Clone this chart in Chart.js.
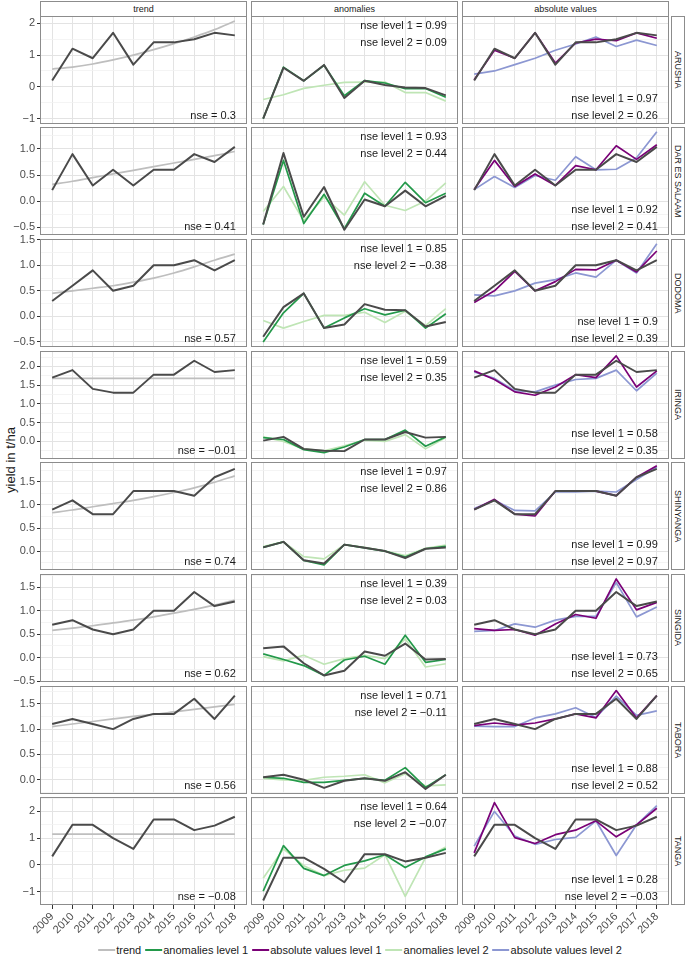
<!DOCTYPE html>
<html>
<head>
<meta charset="utf-8">
<script src="https://cdn.jsdelivr.net/npm/chart.js@4.4.1/dist/chart.umd.min.js"></script>
<style>
  html, body { margin: 0; padding: 0; background: #fff; }
  body { width: 685px; height: 960px; position: relative; overflow: hidden;
         font-family: "Liberation Sans", Arial, Helvetica, sans-serif; }
  .panel { position: absolute; }
  .panel canvas { display: block; }
  .strip { position: absolute; box-sizing: border-box; border: 1px solid #8c8c8c; background: #fff;
           color: #1a1a1a; font-size: 9px; display: flex; align-items: center; justify-content: center; }
  .strip.side span { writing-mode: vertical-rl; white-space: nowrap; }
  #ytitle { position: absolute; left: 10px; top: 460px; transform: translate(-50%, -50%) rotate(-90deg);
            font-size: 13px; color: #1a1a1a; white-space: nowrap; }
  #legend { position: absolute; top: 944px; left: 362px; transform: translateX(-50%); display: flex;
            align-items: center; font-size: 11px; color: #1a1a1a; white-space: nowrap; }
  #legend .item { display: flex; align-items: center; margin-right: 4px; }
  #legend .key { display: inline-block; width: 17px; height: 2px; margin-right: 1px; }
</style>
</head>
<body>
<div id="ytitle">yield in t/ha</div>
<div id="legend"></div>
<script>
// ---------- data ----------
const years = [2009, 2010, 2011, 2012, 2013, 2014, 2015, 2016, 2017, 2018];
const regions = ['ARUSHA', 'DAR ES SALAAM', 'DODOMA', 'IRINGA', 'SHINYANGA', 'SINGIDA', 'TABORA', 'TANGA'];
const facetTitles = ['trend', 'anomalies', 'absolute values'];

// observed yield (t/ha), one row per region
const observedYield = [
  [0.2, 1.2, 0.9, 1.7, 0.7, 1.4, 1.4, 1.5, 1.7, 1.62],
  [0.21, 0.9, 0.3, 0.6, 0.3, 0.6, 0.6, 0.9, 0.75, 1.04],
  [0.3, 0.6, 0.9, 0.5, 0.6, 1.0, 1.0, 1.1, 0.9, 1.1],
  [1.7, 1.9, 1.4, 1.3, 1.3, 1.78, 1.78, 2.15, 1.85, 1.9],
  [0.9, 1.1, 0.8, 0.8, 1.3, 1.3, 1.3, 1.2, 1.6, 1.78],
  [0.7, 0.8, 0.6, 0.5, 0.6, 1.0, 1.0, 1.4, 1.1, 1.2],
  [1.1, 1.2, 1.1, 1.0, 1.2, 1.3, 1.3, 1.6, 1.2, 1.66],
  [0.32, 1.5, 1.5, 1.0, 0.6, 1.7, 1.7, 1.3, 1.47, 1.8]
];
const trendYield = [
  [0.56, 0.62, 0.72, 0.85, 1.0, 1.17, 1.36, 1.57, 1.8, 2.07],
  [0.32, 0.38, 0.45, 0.52, 0.59, 0.66, 0.73, 0.8, 0.87, 0.95],
  [0.45, 0.5, 0.55, 0.6, 0.67, 0.75, 0.85, 0.97, 1.1, 1.22],
  [1.68, 1.68, 1.68, 1.68, 1.68, 1.68, 1.68, 1.68, 1.68, 1.68],
  [0.83, 0.89, 0.96, 1.03, 1.1, 1.18, 1.27, 1.37, 1.49, 1.63],
  [0.58, 0.63, 0.68, 0.74, 0.8, 0.87, 0.95, 1.03, 1.12, 1.23],
  [1.05, 1.1, 1.15, 1.2, 1.25, 1.29, 1.34, 1.39, 1.44, 1.49],
  [1.15, 1.15, 1.15, 1.15, 1.15, 1.15, 1.15, 1.15, 1.15, 1.15]
];
const observedAnomaly = [
  [-1.0, 0.6, 0.19, 0.69, -0.35, 0.19, 0.06, -0.02, -0.04, -0.27],
  [-0.45, 0.92, -0.3, 0.27, -0.55, 0.03, -0.1, 0.2, -0.1, 0.1],
  [-0.4, 0.18, 0.45, -0.23, -0.16, 0.24, 0.13, 0.12, -0.2, -0.11],
  [0.02, 0.12, -0.2, -0.25, -0.26, 0.05, 0.05, 0.25, 0.1, 0.12],
  [0.08, 0.2, -0.2, -0.27, 0.14, 0.07, 0.0, -0.15, 0.05, 0.08],
  [0.2, 0.24, -0.12, -0.38, -0.28, 0.13, 0.04, 0.3, -0.04, -0.03],
  [0.05, 0.1, 0.0, -0.16, -0.02, 0.03, -0.02, 0.15, -0.18, 0.1],
  [-1.33, 0.27, 0.27, -0.15, -0.65, 0.4, 0.4, 0.13, 0.27, 0.45]
];
const anomaliesLevel1 = [
  [-1.0, 0.62, 0.19, 0.68, -0.28, 0.2, 0.12, -0.06, -0.05, -0.33],
  [-0.45, 0.78, -0.43, 0.13, -0.53, 0.15, -0.1, 0.36, -0.03, 0.15],
  [-0.5, 0.07, 0.45, -0.23, -0.03, 0.15, 0.03, 0.12, -0.23, 0.05],
  [0.1, 0.05, -0.22, -0.3, -0.15, 0.05, 0.05, 0.3, -0.13, 0.12],
  [0.08, 0.2, -0.2, -0.3, 0.14, 0.07, 0.0, -0.13, 0.05, 0.1],
  [0.08, -0.04, -0.17, -0.38, -0.05, 0.03, -0.14, 0.48, -0.1, -0.04],
  [0.05, 0.03, -0.05, -0.05, -0.01, 0.03, -0.01, 0.24, -0.15, 0.1],
  [-0.98, 0.72, -0.13, -0.4, -0.02, 0.15, 0.38, -0.1, 0.3, 0.6]
];
const anomaliesLevel2 = [
  [-0.4, -0.25, -0.05, 0.05, 0.14, 0.15, 0.15, -0.18, -0.18, -0.45],
  [-0.2, 0.28, -0.38, 0.08, -0.27, 0.37, -0.08, -0.18, 0.0, 0.35],
  [-0.08, -0.23, -0.1, 0.02, 0.02, 0.08, -0.12, 0.1, -0.18, 0.15],
  [0.12, 0.0, -0.2, -0.25, -0.12, 0.03, 0.0, 0.18, -0.2, 0.1],
  [0.1, 0.2, -0.12, -0.17, 0.14, 0.08, 0.0, -0.1, 0.06, 0.13],
  [0.02, -0.07, 0.05, -0.14, -0.02, 0.05, -0.02, 0.4, -0.2, -0.13],
  [0.03, 0.0, -0.01, 0.05, 0.07, 0.1, -0.06, 0.12, -0.12, -0.1],
  [-0.5, 0.6, -0.03, -0.4, -0.2, -0.12, 0.38, -1.18, 0.27, 0.67]
];
const absoluteLevel1 = [
  [0.22, 1.15, 0.9, 1.7, 0.75, 1.38, 1.5, 1.45, 1.7, 1.53],
  [0.22, 0.78, 0.28, 0.52, 0.3, 0.68, 0.6, 1.06, 0.8, 1.08],
  [0.27, 0.5, 0.88, 0.5, 0.68, 0.92, 0.91, 1.1, 0.87, 1.28],
  [1.88, 1.65, 1.32, 1.23, 1.45, 1.78, 1.7, 2.28, 1.45, 1.88],
  [0.9, 1.12, 0.8, 0.76, 1.3, 1.3, 1.3, 1.2, 1.6, 1.85],
  [0.62, 0.58, 0.6, 0.48, 0.72, 0.92, 0.84, 1.68, 1.02, 1.18],
  [1.07, 1.12, 1.08, 1.12, 1.2, 1.3, 1.22, 1.76, 1.22, 1.66],
  [0.45, 2.33, 1.02, 0.8, 1.13, 1.3, 1.65, 1.05, 1.5, 2.12]
];
const absoluteLevel2 = [
  [0.4, 0.5, 0.7, 0.9, 1.15, 1.35, 1.57, 1.27, 1.47, 1.3],
  [0.22, 0.47, 0.26, 0.49, 0.4, 0.85, 0.6, 0.61, 0.83, 1.33],
  [0.42, 0.4, 0.5, 0.65, 0.72, 0.85, 0.77, 1.1, 0.85, 1.42],
  [1.85, 1.68, 1.35, 1.32, 1.5, 1.65, 1.68, 1.9, 1.35, 1.82],
  [0.92, 1.1, 0.88, 0.87, 1.28, 1.28, 1.3, 1.28, 1.55, 1.82],
  [0.56, 0.58, 0.72, 0.65, 0.8, 0.88, 0.88, 1.6, 0.87, 1.08],
  [1.06, 1.05, 1.05, 1.22, 1.3, 1.42, 1.23, 1.65, 1.27, 1.36],
  [0.7, 2.0, 1.08, 0.77, 0.95, 1.03, 1.65, 0.35, 1.5, 2.22]
];

// NSE annotations
const nseTrend     = ['0.3', '0.41', '0.57', '\u22120.01', '0.74', '0.62', '0.56', '\u22120.08'];
const nseAnomaly1  = ['0.99', '0.93', '0.85', '0.59', '0.97', '0.39', '0.71', '0.64'];
const nseAnomaly2  = ['0.09', '0.44', '\u22120.38', '0.35', '0.86', '0.03', '\u22120.11', '\u22120.07'];
const nseAbsolute1 = ['0.97', '0.92', '0.9', '0.58', '0.99', '0.73', '0.88', '0.28'];
const nseAbsolute2 = ['0.26', '0.41', '0.39', '0.35', '0.97', '0.65', '0.52', '\u22120.03'];

// y axis per row
const yLimits = [[-1.17, 2.23], [-0.65, 1.42], [-0.6, 1.515], [-0.47, 2.41], [-0.41, 1.93], [-0.52, 1.785], [-0.28, 1.85], [-1.5, 2.54]];
const yMajorTicks = [[-1, 0, 1, 2], [-0.5, 0, 0.5, 1], [-0.5, 0, 0.5, 1, 1.5], [0, 0.5, 1, 1.5, 2], [0, 0.5, 1, 1.5], [-0.5, 0, 0.5, 1, 1.5], [0, 0.5, 1, 1.5], [-1, 0, 1, 2]];
const yMinorTicks = [[-0.5, 0.5, 1.5], [-0.25, 0.25, 0.75, 1.25], [-0.25, 0.25, 0.75, 1.25], [-0.25, 0.25, 0.75, 1.25, 1.75, 2.25], [-0.25, 0.25, 0.75, 1.25, 1.75], [-0.25, 0.25, 0.75, 1.25, 1.75], [-0.25, 0.25, 0.75, 1.25, 1.75], [-0.5, 0.5, 1.5, 2.5]];

// ---------- styles / layout ----------
const COLORS = {
  observed: '#4a4a4a', trend: '#bebebe', anom1: '#23994a', anom2: '#bfe5b5',
  abs1: '#7a0177', abs2: '#8c97d2'
};
const FONT = '"Liberation Sans", Arial, Helvetica, sans-serif';
const COL_LEFT = [40, 251, 462];
const PANEL_W = 207;
const PANEL_H = 108;
const ROW_TOP = regions.map((_, r) => Math.round(15.7 + r * 111.66));
const X_AXIS_H = 50;

const panelDecor = {
  id: 'panelDecor',
  afterDraw(chart, args, opts) {
    const { ctx, chartArea: a } = chart;
    ctx.save();
    ctx.font = '11px ' + FONT;
    ctx.fillStyle = '#1a1a1a';
    ctx.textAlign = 'right';
    ctx.textBaseline = 'middle';
    const x = chart.scales.x.getPixelForValue(2018) + 1;
    (opts.texts || []).forEach(t => {
      ctx.fillText(t.text, x, t.top ? a.top + t.offset : a.bottom - t.offset);
    });
    ctx.strokeStyle = '#8c8c8c';
    ctx.lineWidth = 1;
    ctx.strokeRect(Math.round(a.left) + 0.5, Math.round(a.top) + 0.5,
                   Math.round(a.right - a.left) - 1, Math.round(a.bottom - a.top) - 1);
    ctx.restore();
  }
};
Chart.register(panelDecor);

function pts(arr) { return years.map((y, i) => ({ x: y, y: arr[i] })); }
function line(arr, color, width, extra) {
  return Object.assign({ data: pts(arr), borderColor: color, backgroundColor: color, borderWidth: width,
    pointRadius: 0, pointHoverRadius: 0, fill: false, borderJoinStyle: 'round', tension: 0 }, extra || {});
}

function makePanel(r, c) {
  const last = r === regions.length - 1;
  const yAxisW = c === 0 ? COL_LEFT[0] : 0;
  const xAxisH = last ? X_AXIS_H : 0;
  const padL = c === 0 ? 0 : 30;
  const padT = 8;
  const padB = last ? 0 : 8;
  const w = padL + yAxisW + PANEL_W;
  const h = padT + PANEL_H + xAxisH + padB;
  const div = document.createElement('div');
  div.className = 'panel';
  div.style.left = (c === 0 ? 0 : COL_LEFT[c] - padL) + 'px';
  div.style.top = (ROW_TOP[r] - padT) + 'px';
  div.style.width = w + 'px';
  div.style.height = h + 'px';
  const cv = document.createElement('canvas');
  cv.width = w; cv.height = h;
  cv.style.width = w + 'px'; cv.style.height = h + 'px';
  div.appendChild(cv);
  document.body.appendChild(div);

  let datasets, texts;
  if (c === 0) {
    datasets = [
      line(observedYield[r], COLORS.observed, 2),
      line(trendYield[r], COLORS.trend, 1.7, { cubicInterpolationMode: 'monotone' })
    ];
    texts = [{ text: 'nse = ' + nseTrend[r], top: false, offset: 8.5 }];
  } else if (c === 1) {
    datasets = [
      line(observedAnomaly[r], COLORS.observed, 2),
      line(anomaliesLevel1[r], COLORS.anom1, 1.7),
      line(anomaliesLevel2[r], COLORS.anom2, 1.7)
    ];
    texts = [{ text: 'nse level 1 = ' + nseAnomaly1[r], top: true, offset: 9.5 },
             { text: 'nse level 2 = ' + nseAnomaly2[r], top: true, offset: 26.5 }];
  } else {
    datasets = [
      line(observedYield[r], COLORS.observed, 2),
      line(absoluteLevel1[r], COLORS.abs1, 1.7),
      line(absoluteLevel2[r], COLORS.abs2, 1.7)
    ];
    texts = [{ text: 'nse level 1 = ' + nseAbsolute1[r], top: false, offset: 25.5 },
             { text: 'nse level 2 = ' + nseAbsolute2[r], top: false, offset: 8.5 }];
  }

  const majors = yMajorTicks[r];
  const minors = yMinorTicks[r];
  const allY = majors.concat(minors).sort((a, b) => a - b);
  const decimals = majors.every(Number.isInteger) ? 0 : 1;
  const fmt = v => v.toFixed(decimals).replace('-', '\u2212');
  const isMajor = ctx => ctx && ctx.tick && majors.includes(ctx.tick.value);

  new Chart(cv, {
    type: 'line',
    data: { datasets },
    options: {
      responsive: false,
      animation: false,
      events: [],
      layout: { padding: { left: padL, top: padT, bottom: padB, right: 0 } },
      plugins: { legend: { display: false }, tooltip: { enabled: false }, panelDecor: { texts } },
      scales: {
        x: {
          type: 'linear', min: 2008.4, max: 2018.6,
          afterBuildTicks: s => { s.ticks = years.map(v => ({ value: v })); },
          afterFit: s => { s.height = xAxisH; s.paddingLeft = 0; s.paddingRight = 0; },
          border: { display: false },
          grid: { color: '#e3e3e3', lineWidth: 1, drawTicks: xAxisH > 0, tickLength: 4, tickColor: '#333333' },
          ticks: { display: xAxisH > 0, autoSkip: false, minRotation: 45, maxRotation: 45, padding: 1,
                   color: '#4d4d4d', font: { family: FONT, size: 11 }, callback: v => String(v) }
        },
        y: {
          type: 'linear', min: yLimits[r][0], max: yLimits[r][1],
          afterBuildTicks: s => { s.ticks = allY.map(v => ({ value: v })); },
          afterFit: s => { s.width = yAxisW; s.paddingTop = 0; s.paddingBottom = 0; },
          border: { display: false },
          grid: {
            color: ctx => isMajor(ctx) ? '#e3e3e3' : '#f1f1f1',
            lineWidth: ctx => isMajor(ctx) ? 1 : 0.8,
            drawTicks: yAxisW > 0, tickLength: 3,
            tickColor: ctx => isMajor(ctx) ? '#333333' : 'rgba(0,0,0,0)'
          },
          ticks: { display: yAxisW > 0, autoSkip: false, padding: 2, color: '#4d4d4d',
                   font: { family: FONT, size: 11 },
                   callback: v => majors.includes(v) ? fmt(v) : '' }
        }
      }
    }
  });
}

// strips
facetTitles.forEach((t, c) => {
  const s = document.createElement('div');
  s.className = 'strip';
  s.style.left = COL_LEFT[c] + 'px';
  s.style.top = '1px';
  s.style.width = PANEL_W + 'px';
  s.style.height = '16px';
  s.textContent = t;
  document.body.appendChild(s);
});
regions.forEach((name, r) => {
  const s = document.createElement('div');
  s.className = 'strip side';
  s.style.left = '671px';
  s.style.top = ROW_TOP[r] + 'px';
  s.style.width = '14px';
  s.style.height = PANEL_H + 'px';
  const sp = document.createElement('span');
  sp.textContent = name;
  s.appendChild(sp);
  document.body.appendChild(s);
});

for (let r = 0; r < regions.length; r++) {
  for (let c = 0; c < 3; c++) makePanel(r, c);
}

// legend
const legendItems = [
  ['trend', COLORS.trend], ['anomalies level 1', COLORS.anom1], ['absolute values level 1', COLORS.abs1],
  ['anomalies level 2', COLORS.anom2], ['absolute values level 2', COLORS.abs2]
];
const lg = document.getElementById('legend');
legendItems.forEach(([label, color]) => {
  const it = document.createElement('span');
  it.className = 'item';
  const k = document.createElement('span');
  k.className = 'key';
  k.style.background = color;
  const tx = document.createElement('span');
  tx.textContent = label;
  it.appendChild(k); it.appendChild(tx);
  lg.appendChild(it);
});
</script>
</body>
</html>
